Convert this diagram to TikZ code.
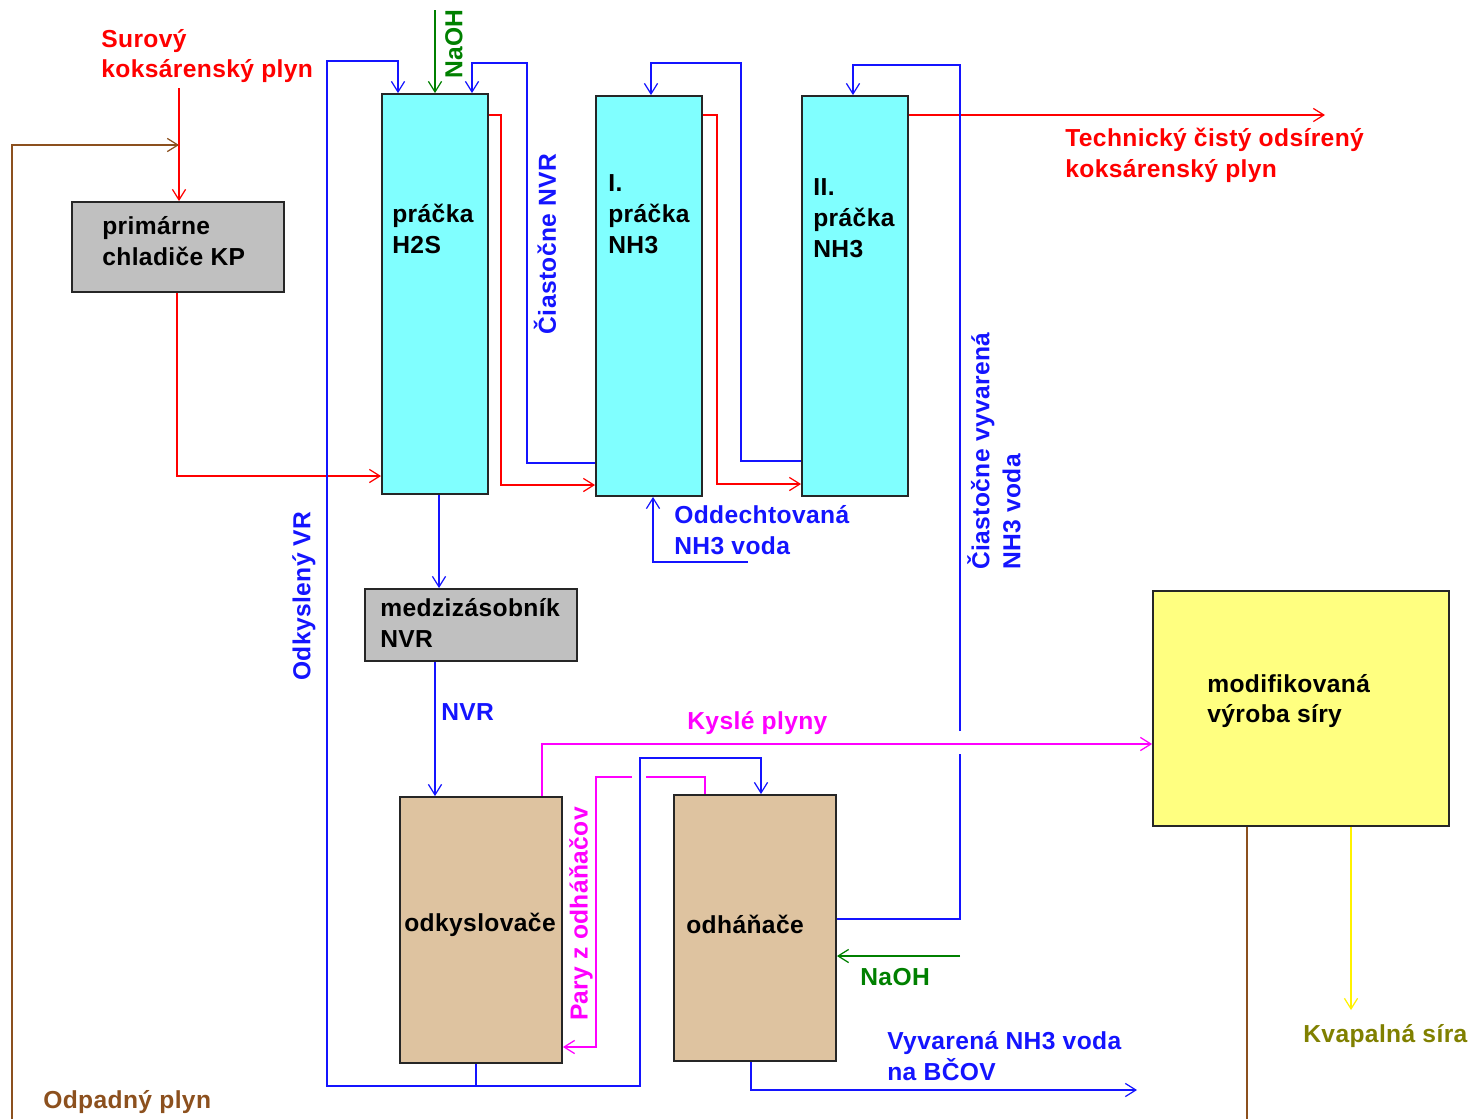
\documentclass[tikz,border=0pt]{standalone}
\usepackage{fontspec}
\setmainfont[LetterSpace=1.5]{Liberation Sans}
\usetikzlibrary{arrows.meta}
\definecolor{PLANT-CYAN}{RGB}{128, 255, 255}
\definecolor{PLANT-GREY}{RGB}{192, 192, 192}
\definecolor{PLANT-TAN}{RGB}{222, 195, 160}
\definecolor{PLANT-YELLOW}{RGB}{255, 255, 128}
\definecolor{LINE-RED}{RGB}{255, 0, 0}
\definecolor{LINE-BLUE}{RGB}{20, 20, 255}
\definecolor{LINE-GREEN}{RGB}{0, 128, 0}
\definecolor{LINE-PINK}{RGB}{255, 0, 255}
\definecolor{LINE-BROWN}{RGB}{140, 80, 30}
\definecolor{TEXT-OLIVE}{RGB}{128, 128, 0}
\tikzset{
  plant/.style={draw=black!85, line width=1.1pt, minimum width=#1, inner sep=0pt},
  flow/.style={line width=1.1pt},
  tip/.style={-{Straight Barb[length=6pt,width=7.5pt,line width=.7pt]}},
  tag/.style={font=\fontsize{14}{17.6}\selectfont\bfseries, align=left, anchor=west, inner sep=0pt},
  sidetag/.style={tag, rotate=90, anchor=center}
}

\begin{document}
\begin{tikzpicture}[x=0.02cm, y=-0.02cm]
  \useasboundingbox (0,0) rectangle (1476,1119);

  % Boxes
  \node[plant=4.24cm, minimum height=1.8cm, fill=PLANT-GREY] (primary) at (178,247) {};
  \node[plant=2.12cm, minimum height=8cm, fill=PLANT-CYAN] (h2s) at (435,294) {};
  \node[plant=2.12cm, minimum height=8cm, fill=PLANT-CYAN] (nhA) at (649,296) {};
  \node[plant=2.12cm, minimum height=8cm, fill=PLANT-CYAN] (nhB) at (855,296) {};
  \node[plant=4.24cm, minimum height=1.44cm, fill=PLANT-GREY] (buffer) at (471,625) {};
  \node[plant=3.24cm, minimum height=5.32cm, fill=PLANT-TAN] (acid) at (481,930) {};
  \node[plant=3.24cm, minimum height=5.32cm, fill=PLANT-TAN] (strip) at (755,928) {};
  \node[plant=5.92cm, minimum height=4.7cm, fill=PLANT-YELLOW] (sulfur) at (1301,708.5) {};

  % Box texts
  \node[tag] (primaryT) at (102,241) {primárne\\chladiče KP};
  \node[tag] (h2sT) at (392,229) {práčka\\H2S};
  \node[tag] (nhAT) at (608,214) {I.\\práčka\\NH3};
  \node[tag] (nhBT) at (813,218) {II.\\práčka\\NH3};
  \node[tag] (bufferT) at (380,623) {medzizásobník\\NVR};
  \node[tag] (acidT) at (404,925) {odkyslovače};
  \node[tag] (stripT) at (686,924) {odháňače};
  \node[tag] (sulfurT) at (1207,701) {modifikovaná\\výroba síry};

  % Raw gas through the coolers and the washers
  \coordinate (gasIn) at (179,88);
  \coordinate (bendA) at (177,476);
  \coordinate (bendB) at (501,115);
  \coordinate (bendC) at (501,485);
  \coordinate (bendD) at (717,115);
  \coordinate (bendE) at (717,484);
  \coordinate (gasOut) at (1325,115);
  \draw[flow, tip, LINE-RED] (gasIn) -- (gasIn |- primary.north);
  \draw[flow, tip, LINE-RED] (bendA |- primary.south) -- (bendA) -- (bendA -| h2s.west);
  \draw[flow, tip, LINE-RED] (bendB -| h2s.east) -- (bendB) -- (bendC) -- (bendC -| nhA.west);
  \draw[flow, tip, LINE-RED] (bendD -| nhA.east) -- (bendD) -- (bendE) -- (bendE -| nhB.west);
  \draw[flow, tip, LINE-RED] (gasOut -| nhB.east) -- (gasOut);

  % Waste gas back to the inlet
  \coordinate (wasteA) at (12,1119);
  \coordinate (wasteB) at (12,145);
  \draw[flow, tip, LINE-BROWN] (wasteA) -- (wasteB) -- (wasteB -| gasIn);
  \coordinate (wasteC) at (1247,1119);
  \draw[flow, LINE-BROWN] (wasteC |- sulfur.south) -- (wasteC);

  % Deacidified water
  \coordinate (vrJoin) at (476,1086);
  \coordinate (vrLeft) at (327,1086);
  \coordinate (vrTop) at (327,61);
  \coordinate (vrDrop) at (398,61);
  \coordinate (vrRight) at (640,1086);
  \coordinate (vrHigh) at (640,758);
  \coordinate (vrEnd) at (761,758);
  \draw[flow, LINE-BLUE] (acid.south -| vrJoin) -- (vrJoin);
  \draw[flow, tip, LINE-BLUE] (vrJoin) -- (vrLeft) -- (vrTop) -- (vrDrop) -- (vrDrop |- h2s.north);
  \draw[flow, tip, LINE-BLUE] (vrJoin) -- (vrRight) -- (vrHigh) -- (vrEnd) -- (vrEnd |- strip.north);

  % NaOH feeds
  \coordinate (sodaA) at (435,10);
  \coordinate (sodaB) at (960,956);
  \draw[flow, tip, LINE-GREEN] (sodaA) -- (sodaA |- h2s.north);
  \draw[flow, tip, LINE-GREEN] (sodaB) -- (sodaB -| strip.east);

  % Washer returns
  \coordinate (nvrA) at (527,463);
  \coordinate (nvrB) at (527,63);
  \coordinate (nvrC) at (472,63);
  \draw[flow, tip, LINE-BLUE] (nvrA -| nhA.west) -- (nvrA) -- (nvrB) -- (nvrC) -- (nvrC |- h2s.north);
  \coordinate (nvrD) at (741,461);
  \coordinate (nvrE) at (741,63);
  \coordinate (nvrF) at (651,63);
  \draw[flow, tip, LINE-BLUE] (nvrD -| nhB.west) -- (nvrD) -- (nvrE) -- (nvrF) -- (nvrF |- nhA.north);

  % Boiled water, broken where the acid gas crosses
  \coordinate (boilA) at (960,919);
  \coordinate (boilB) at (960,754);
  \coordinate (boilC) at (960,731);
  \coordinate (boilD) at (960,65);
  \coordinate (boilE) at (853,65);
  \draw[flow, LINE-BLUE] (boilA -| strip.east) -- (boilA) -- (boilB);
  \draw[flow, tip, LINE-BLUE] (boilC) -- (boilD) -- (boilE) -- (boilE |- nhB.north);

  % Down to the buffer and the deacidifiers
  \coordinate (dropA) at (439,540);
  \coordinate (dropB) at (435,730);
  \draw[flow, tip, LINE-BLUE] (dropA |- h2s.south) -- (dropA |- buffer.north);
  \draw[flow, tip, LINE-BLUE] (dropB |- buffer.south) -- (dropB |- acid.north);

  % Stripped ammonia water
  \coordinate (ammA) at (748,562);
  \coordinate (ammB) at (653,562);
  \draw[flow, tip, LINE-BLUE] (ammA) -- (ammB) -- (ammB |- nhA.south);

  % Acid gas
  \coordinate (acidA) at (542,744);
  \draw[flow, tip, LINE-PINK] (acidA |- acid.north) -- (acidA) -- (acidA -| sulfur.west);

  % Vapours, broken where the water crosses
  \coordinate (vapA) at (705,777);
  \coordinate (vapB) at (646,777);
  \coordinate (vapC) at (632,777);
  \coordinate (vapD) at (596,777);
  \coordinate (vapE) at (596,1047);
  \draw[flow, LINE-PINK] (vapA |- strip.north) -- (vapA) -- (vapB);
  \draw[flow, tip, LINE-PINK] (vapC) -- (vapD) -- (vapE) -- (vapE -| acid.east);

  % Outlets
  \coordinate (outA) at (751,1090);
  \coordinate (outB) at (1137,1090);
  \coordinate (liquid) at (1351,1010);
  \draw[flow, tip, LINE-BLUE] (outA |- strip.south) -- (outA) -- (outB);
  \draw[flow, tip, yellow] (liquid |- sulfur.south) -- (liquid);

  % Flow labels
  \node[tag, LINE-RED] (rawT) at (101,56) {Surový\\koksárenský plyn};
  \node[tag, LINE-RED] (cleanT) at (1065,155) {Technický čistý odsírený\\koksárenský plyn};
  \node[tag, LINE-BLUE] (waterT) at (674,530) {Oddechtovaná\\NH3 voda};
  \node[tag, LINE-BLUE] (nvrT) at (441,712) {NVR};
  \node[tag, LINE-PINK] (acidGasT) at (687,723) {Kyslé plyny};
  \node[tag, LINE-GREEN] (sodaT) at (860,977) {NaOH};
  \node[tag, LINE-BLUE] (outT) at (887,1056) {Vyvarená NH3 voda\\na BČOV};
  \node[tag, TEXT-OLIVE] (liquidT) at (1303,1036) {Kvapalná síra};
  \node[tag, LINE-BROWN] (wasteT) at (43,1102) {Odpadný plyn};
  \node[sidetag, LINE-GREEN] (sodaTopT) at (454,44) {NaOH};
  \node[sidetag, LINE-BLUE] (partNvrT) at (545,244) {Čiastočne NVR};
  \node[sidetag, LINE-BLUE] (vrT) at (304,596) {Odkyslený VR};
  \node[sidetag, LINE-PINK] (vapT) at (581,914) {Pary z odháňačov};
  \node[tag, LINE-BLUE, rotate=90] (partBoilT) at (994,570) {Čiastočne vyvarená\\NH3 voda};
\end{tikzpicture}
\end{document}
